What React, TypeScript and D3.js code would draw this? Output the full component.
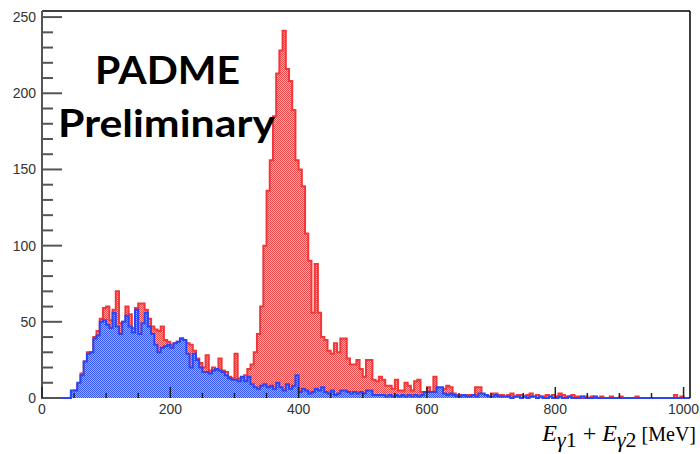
import React from "react";
import * as d3 from "d3";

// ---- data (5 MeV bins, 0-1000 MeV) ----
const binWidth = 5;
const redCounts = [
  0, 0, 0, 0, 0, 0, 0, 0, 0, 1,
  5, 9, 16, 24, 30, 30, 40, 44, 52, 59,
  60, 51, 58, 70, 49, 50, 60, 55, 46, 59,
  62, 62, 58, 52, 47, 45, 44, 47, 38, 37,
  35, 36, 37, 39, 37, 36, 35, 31, 26, 23,
  20, 28, 18, 20, 19, 26, 18, 17, 14, 13,
  29, 13, 12, 15, 19, 22, 30, 42, 60, 100,
  136, 156, 185, 213, 228, 241, 216, 208, 189, 156,
  150, 139, 108, 90, 56, 88, 56, 40, 38, 31,
  29, 36, 30, 39, 39, 26, 22, 22, 25, 19,
  14, 25, 25, 12, 11, 14, 12, 8, 8, 6,
  12, 5, 5, 10, 8, 5, 11, 12, 4, 3,
  7, 4, 14, 4, 5, 6, 8, 7, 3, 2,
  2, 1, 2, 2, 1, 7, 7, 2, 2, 1,
  3, 3, 2, 2, 1, 2, 3, 1, 2, 2,
  1, 2, 3, 1, 2, 1, 1, 2, 1, 2,
  1, 3, 2, 1, 1, 2, 1, 1, 0, 1,
  0, 1, 0, 0, 1, 0, 0, 1, 0, 0,
  1, 0, 0, 0, 0, 1, 0, 0, 0, 0,
  0, 0, 0, 0, 0, 0, 0, 2, 0, 1,
];
const blueCounts = [
  0, 0, 0, 0, 0, 0, 0, 0, 0, 5,
  5, 10, 15, 24, 29, 30, 39, 41, 50, 51,
  48, 46, 56, 47, 42, 50, 54, 47, 43, 58,
  42, 49, 56, 47, 42, 35, 30, 33, 34, 35,
  33, 36, 37, 39, 38, 29, 20, 29, 25, 20,
  17, 17, 16, 18, 19, 18, 17, 15, 13, 12,
  12, 11, 14, 11, 14, 9, 7, 6, 8, 9,
  7, 8, 6, 10, 7, 5, 9, 6, 8, 15,
  4, 6, 5, 3, 4, 6, 5, 7, 4, 3,
  5, 2, 3, 5, 5, 4, 3, 4, 3, 4,
  3, 5, 5, 2, 2, 2, 2, 1, 2, 1,
  2, 1, 2, 1, 2, 1, 2, 1, 2, 4,
  4, 4, 4, 7, 7, 3, 2, 3, 2, 1,
  1, 2, 1, 1, 2, 1, 3, 3, 2, 1,
  1, 2, 1, 1, 1, 1, 0, 1, 1, 0,
  1, 0, 1, 1, 0, 1, 0, 0, 1, 0,
  0, 1, 0, 0, 1, 0, 0, 0, 1, 0,
  0, 0, 1, 0, 0, 0, 0, 0, 0, 0,
  0, 0, 0, 0, 0, 0, 0, 0, 0, 0,
  0, 0, 0, 0, 0, 0, 0, 0, 0, 0,
];
const xMajorTicks = [0, 200, 400, 600, 800, 1000];
const yMajorTicks = [0, 50, 100, 150, 200, 250];

const W = 700;
const H = 454;
const L = 42, R = 690, T = 11, B = 398;

export default function App() {
  const x = d3.scaleLinear().domain([0, 1010]).range([L, R]);
  const y = d3.scaleLinear().domain([0, 254]).range([B, T]);

  const stepPoints = (vals: number[]): [number, number][] => {
    const pts: [number, number][] = [[x(0), y(0)]];
    vals.forEach((v, i) => {
      pts.push([x(i * binWidth), y(v)]);
      pts.push([x((i + 1) * binWidth), y(v)]);
    });
    pts.push([x(vals.length * binWidth), y(0)]);
    pts.push([x(1010), y(0)]);
    return pts;
  };
  const line = d3.line<[number, number]>();
  const redPath = line(stepPoints(redCounts)) || "";
  const bluePath = line(stepPoints(blueCounts)) || "";

  const xMinor = d3.range(0, 1001, 50).filter((v) => v % 200 !== 0);
  const yMinor = d3.range(0, 255, 10).filter((v) => v % 50 !== 0);

  return (
    <svg width={W} height={H} style={{ display: "block", position: "absolute", left: 0, top: 0 }}>
      <defs>
        <pattern id="redFill" width="2" height="2" patternUnits="userSpaceOnUse">
          <rect width="2" height="2" fill="#f8b0b0" />
          <rect x="0" y="0" width="1" height="1" fill="#ea4848" />
          <rect x="1" y="1" width="1" height="1" fill="#ea4848" />
        </pattern>
        <pattern id="blueFill" width="2" height="2" patternUnits="userSpaceOnUse">
          <rect width="2" height="2" fill="#9fb2f8" />
          <rect x="0" y="0" width="1" height="1" fill="#3354ef" />
          <rect x="1" y="1" width="1" height="1" fill="#3354ef" />
        </pattern>
        <clipPath id="frame">
          <rect x={L} y={T - 2} width={R - L} height={B - T + 3} />
        </clipPath>
      </defs>
      <rect width={W} height={H} fill="#fff" />

      <g clipPath="url(#frame)">
        <path d={redPath} fill="url(#redFill)" stroke="#f0383a" strokeWidth={2} strokeLinejoin="miter" />
        <path d={bluePath} fill="url(#blueFill)" stroke="#2a45f5" strokeWidth={2} strokeLinejoin="miter" />
      </g>

      {/* frame */}
      <line x1={L} y1={T} x2={R} y2={T} stroke="#000" strokeWidth={1.5} />
      <line x1={R} y1={T} x2={R} y2={B} stroke="#000" strokeWidth={1.5} />
      <line x1={L} y1={T} x2={L} y2={B + 1} stroke="#555" strokeWidth={2} />

      {/* y ticks */}
      {yMajorTicks.map((v) => (
        <line key={"ym" + v} x1={L} x2={L + 20} y1={y(v)} y2={y(v)} stroke="#555" strokeWidth={2} />
      ))}
      {yMinor.map((v) => (
        <line key={"yn" + v} x1={L} x2={L + 11} y1={y(v)} y2={y(v)} stroke="#555" strokeWidth={2} />
      ))}
      {yMajorTicks.map((v) => (
        <text key={"yl" + v} x={36} y={y(v)} dy="0.36em" textAnchor="end"
          fontFamily="Liberation Sans, Arial, sans-serif" fontSize={14} fill="#333">{v}</text>
      ))}

      {/* x ticks */}
      {xMajorTicks.map((v) => (
        <line key={"xm" + v} x1={x(v)} x2={x(v)} y1={B} y2={B - 11} stroke="#222" strokeWidth={1.5} />
      ))}
      {xMinor.map((v) => (
        <line key={"xn" + v} x1={x(v)} x2={x(v)} y1={B} y2={B - 5} stroke="#222" strokeWidth={1.5} />
      ))}
      {xMajorTicks.map((v) => (
        <text key={"xl" + v} x={x(v)} y={414} textAnchor="middle"
          fontFamily="Liberation Sans, Arial, sans-serif" fontSize={14} fill="#333">{v}</text>
      ))}

      {/* axis title */}
      <text x={696} y={441} textAnchor="end"
        fontFamily="Liberation Serif, Times New Roman, serif" fontSize={24} fill="#000">
        <tspan fontStyle="italic">E</tspan>
        <tspan fontStyle="italic" fontSize={22} dy={6}>γ</tspan>
        <tspan fontSize={22}>1</tspan>
        <tspan dy={-6}> + </tspan>
        <tspan fontStyle="italic">E</tspan>
        <tspan fontStyle="italic" fontSize={22} dy={6}>γ</tspan>
        <tspan fontSize={22}>2</tspan>
        <tspan dy={-6} fontSize={20}>{"\u00a0[MeV]"}</tspan>
      </text>

      {/* label */}
      <text x={95} y={84} fontFamily="Lato, Open Sans, sans-serif" fontWeight={700} fontSize={38}
        textLength={145} lengthAdjust="spacingAndGlyphs" fill="#000">PADME</text>
      <text x={58} y={137} fontFamily="Lato, Open Sans, sans-serif" fontWeight={700} fontSize={38}
        textLength={217} lengthAdjust="spacingAndGlyphs" fill="#000">Preliminary</text>
    </svg>
  );
}
